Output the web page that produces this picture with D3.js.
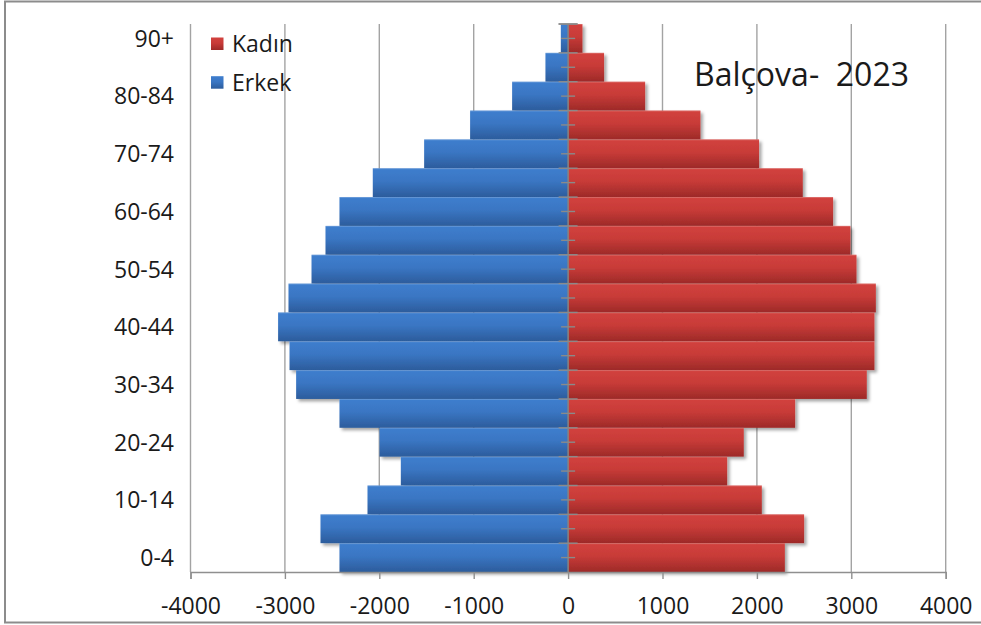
<!DOCTYPE html>
<html>
<head>
<meta charset="utf-8">
<script src="https://cdn.jsdelivr.net/npm/d3@7"></script>
<style>
html,body{margin:0;padding:0;background:#fff;}
svg{display:block;}
text{font-family:"Open Sans","Noto Sans",sans-serif;fill:#1a1a1a;}
</style>
</head>
<body>
<svg id="chart" width="981" height="625"></svg>
<script>
// ---- data ----
const categories = ["0-4","5-9","10-14","15-19","20-24","25-29","30-34","35-39","40-44","45-49","50-54","55-59","60-64","65-69","70-74","75-79","80-84","85-89","90+"];
const erkek = [-2422,-2623,-2125,-1772,-1998,-2422,-2881,-2951,-3072,-2962,-2718,-2570,-2422,-2069,-1525,-1038,-593,-240,-77];
const kadin = [2296,2500,2052,1685,1861,2405,3164,3245,3245,3260,3055,2991,2807,2486,2023,1402,816,381,152];
const xTicks = [-4000,-3000,-2000,-1000,0,1000,2000,3000,4000];
const yTickLabels = ["0-4","10-14","20-24","30-34","40-44","50-54","60-64","70-74","80-84","90+"];
const seriesNames = ["Kadın","Erkek"];
const titleText = "Balçova-  2023";

// ---- layout ----
const svg = d3.select("#chart");
const L = 190.5, R = 945.7, T = 24, B = 572;

const x = d3.scaleLinear().domain([-4000,4000]).range([L,R]);
const y = d3.scaleBand().domain(categories.slice().reverse()).range([T,B]).padding(0);

const defs = svg.append("defs");
function grad(id, c1, c2, c3){
  const g = defs.append("linearGradient").attr("id",id).attr("x1",0).attr("y1",0).attr("x2",0).attr("y2",1);
  g.append("stop").attr("offset","0%").attr("stop-color",c1);
  g.append("stop").attr("offset","45%").attr("stop-color",c2);
  g.append("stop").attr("offset","100%").attr("stop-color",c3);
}
grad("gBlue","#3E7ECE","#3A76C3","#2C5C9C");
grad("gRed","#D2423E","#C83B38","#9D2A28");
const f = defs.append("filter").attr("id","shadow").attr("x","-10%").attr("y","-10%").attr("width","130%").attr("height","130%");
f.append("feDropShadow").attr("dx",2.5).attr("dy",2.5).attr("stdDeviation",1.6).attr("flood-color","#000").attr("flood-opacity",0.35);

// outer frame
svg.append("rect").attr("x",5).attr("y",1.5).attr("width",1000).attr("height",621)
  .attr("fill","none").attr("stroke","#8c8c8c").attr("stroke-width",2);

// gridlines
svg.append("g").selectAll("line").data(xTicks.filter(d=>d!==0)).join("line")
  .attr("x1",d=>x(d)).attr("x2",d=>x(d)).attr("y1",T).attr("y2",B)
  .attr("stroke","#a3a3a3").attr("stroke-width",1.4);

// bars
const bars = svg.append("g").attr("filter","url(#shadow)");
bars.selectAll("rect.m").data(categories).join("rect").attr("class","m")
  .attr("x",(d,i)=>x(erkek[i])).attr("width",(d,i)=>x(0)-x(erkek[i]))
  .attr("y",d=>y(d)).attr("height",y.bandwidth())
  .attr("fill","url(#gBlue)");
bars.selectAll("rect.f").data(categories).join("rect").attr("class","f")
  .attr("x",x(0)).attr("width",(d,i)=>x(kadin[i])-x(0))
  .attr("y",d=>y(d)).attr("height",y.bandwidth())
  .attr("fill","url(#gRed)");
// light top edge of each bar
svg.append("g").selectAll("line").data(categories).join("line")
  .attr("x1",(d,i)=>x(erkek[i])).attr("x2",(d,i)=>x(kadin[i]))
  .attr("y1",d=>y(d)+0.5).attr("y2",d=>y(d)+0.5)
  .attr("stroke","#ffffff").attr("stroke-opacity",0.18).attr("stroke-width",1);

// x axis
const xAxis = d3.axisBottom(x).tickValues(xTicks).tickSize(7).tickPadding(18.5).tickFormat(d3.format("d"));
const gx = svg.append("g").attr("transform",`translate(0,${B})`).call(xAxis);
gx.select(".domain").attr("stroke","#8f8f8f").attr("stroke-width",1.4);
gx.selectAll(".tick line").attr("stroke","#8f8f8f").attr("stroke-width",1.4);
gx.selectAll("text").attr("font-size","23px").attr("fill","#1a1a1a")
  .text(d=>d<0 ? "-"+Math.abs(d) : d);

// y axis labels (every other category)
const yAxis = d3.axisLeft(y).tickValues(yTickLabels).tickSizeInner(0).tickSizeOuter(0).tickPadding(x(0)-174);
const gy = svg.append("g").attr("transform",`translate(${x(0)},1)`).call(yAxis);
gy.select(".domain").remove();
gy.selectAll("text").attr("font-size","23px").attr("fill","#1a1a1a");

// vertical category axis line with tick marks
const ax = svg.append("g");
ax.append("line").attr("x1",x(0)).attr("x2",x(0)).attr("y1",T).attr("y2",B)
  .attr("stroke","#858585").attr("stroke-width",1.5);
const bounds = categories.map(c=>y(c)).concat([T]);
ax.selectAll("line.maj").data(bounds).join("line").attr("class","maj")
  .attr("x1",x(0)-9.5).attr("x2",x(0)+9.5).attr("y1",d=>d).attr("y2",d=>d)
  .attr("stroke","#8a8a8a").attr("stroke-width",1.4);
ax.selectAll("line.min").data(categories).join("line").attr("class","min")
  .attr("x1",x(0)-7).attr("x2",x(0)+7)
  .attr("y1",d=>y(d)+y.bandwidth()/2).attr("y2",d=>y(d)+y.bandwidth()/2)
  .attr("stroke","#8a8a8a").attr("stroke-width",1.4);

// legend
const leg = svg.append("g");
const legFill = ["url(#gRed)","url(#gBlue)"];
const legY = [37.5, 76.2];
leg.selectAll("rect").data(seriesNames).join("rect")
  .attr("x",211).attr("y",(d,i)=>legY[i]).attr("width",12.5).attr("height",12.5)
  .attr("fill",(d,i)=>legFill[i]);
leg.selectAll("text").data(seriesNames).join("text")
  .attr("x",232).attr("y",(d,i)=>legY[i]+6.3).attr("dy","0.35em")
  .attr("font-size","23px").text(d=>d);

// title
svg.append("text").attr("x",694).attr("y",85.5).attr("font-size","32px")
  .style("white-space","pre").text(titleText);
</script>
</body>
</html>
